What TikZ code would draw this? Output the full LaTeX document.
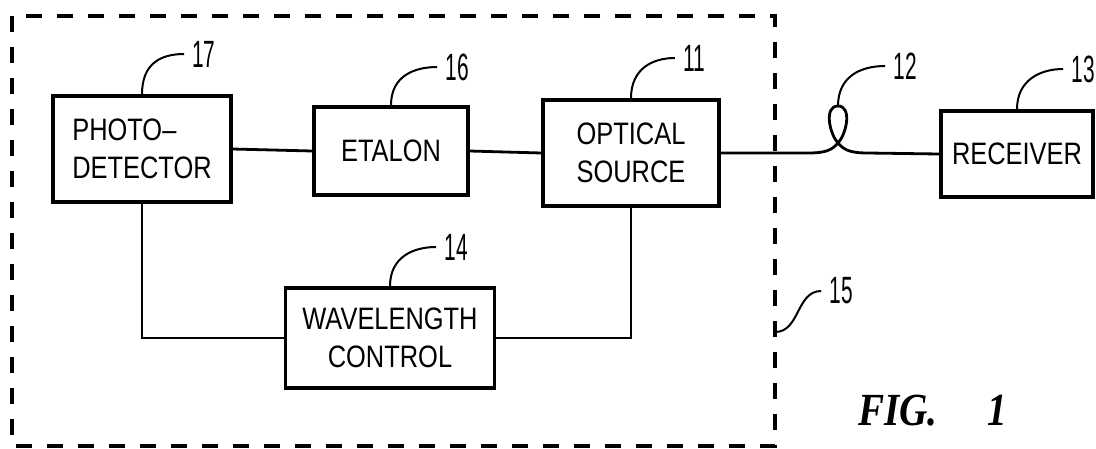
\documentclass[tikz,border=0pt]{standalone}
\usepackage{fontspec}
\setmainfont{Liberation Sans}
\newfontfamily\BoxFont{Liberation Sans}[FakeStretch=0.82]
\newfontfamily\NumFont{Liberation Sans}[FakeStretch=0.55]
\newfontfamily\FigFont{Liberation Serif}[FakeStretch=0.85]
\usetikzlibrary{calc}

\begin{document}
\begin{tikzpicture}[x=1pt,y=-1pt,
  bloque/.style={draw,line width=3.4pt,align=center,inner sep=0pt,
    font=\BoxFont\fontsize{31}{38}\selectfont},
  refnum/.style={inner sep=0pt,inner xsep=8pt,font=\NumFont\fontsize{38}{38}\selectfont},
  guia/.style={line width=2pt},
  linea/.style={line width=2.8pt},
  marco/.style={line width=3.2pt,dash pattern=on 16pt off 15pt}]
  \useasboundingbox (0,0) rectangle (1096,448);
  \coordinate (M1) at (12,16);
  \coordinate (M2) at (775,446);
  \draw[marco] (M1) rectangle (M2);
  \node[bloque,align=left,minimum width=178pt,minimum height=106pt] (pd) at (142,149) {PHOTO–\\DETECTOR};
  \node[bloque,minimum width=154pt,minimum height=88pt] (etalon) at (391,151) {ETALON};
  \node[bloque,minimum width=176pt,minimum height=106pt] (os) at (631,153) {OPTICAL\\SOURCE};
  \node[bloque,minimum width=152pt,minimum height=86pt] (rx) at (1017,154) {RECEIVER};
  \node[bloque,minimum width=209pt,minimum height=100pt] (wc) at (390,338) {WAVELENGTH\\CONTROL};
  \node[refnum] (n17) at (204,54) {17};
  \node[refnum] (n16) at (457,67) {16};
  \node[refnum] (n11) at (694,58) {11};
  \node[refnum] (n12) at (905,66) {12};
  \node[refnum] (n13) at (1083,69) {13};
  \node[refnum] (n14) at (456,247) {14};
  \node[refnum] (n15) at (841,291) {15};
  \node[anchor=base west,inner sep=0pt,font=\FigFont\bfseries\itshape\fontsize{46}{46}\selectfont] (fig) at (858,425) {FIG.\hspace{50pt}1};
  \draw[linea] (pd.east) -- (etalon.west);
  \draw[linea] (etalon.east) -- (os.west);
  \draw[linea] (pd.south) |- (wc.west);
  \draw[linea] (os.south) |- (wc.east);
  \coordinate (lazo) at (838,106);
  \draw[linea] (os.east) -- (808,153) .. controls (826,153) and (832,150) .. (838,143)
    .. controls (847,133) and (852,106) .. (lazo)
    .. controls (824,106) and (829,133) .. (838,143)
    .. controls (844,150) and (850,153) .. (868,153) -- (rx.west);
  \draw[guia] (pd.north) .. controls +(0,-32) and +(-22,0) .. (n17.west);
  \draw[guia] (etalon.north) .. controls +(0,-30) and +(-22,0) .. (n16.west);
  \draw[guia] (os.north) .. controls +(0,-30) and +(-22,0) .. (n11.west);
  \draw[guia] (lazo) .. controls +(0,-30) and +(-24,0) .. (n12.west);
  \draw[guia] (rx.north) .. controls +(0,-30) and +(-22,0) .. (n13.west);
  \draw[guia] (wc.north) .. controls +(0,-30) and +(-22,0) .. (n14.west);
  \coordinate (b15) at (775,332);
  \draw[guia] (b15) .. controls +(25,0) and +(-25,0) .. (n15.west);
\end{tikzpicture}
\end{document}
